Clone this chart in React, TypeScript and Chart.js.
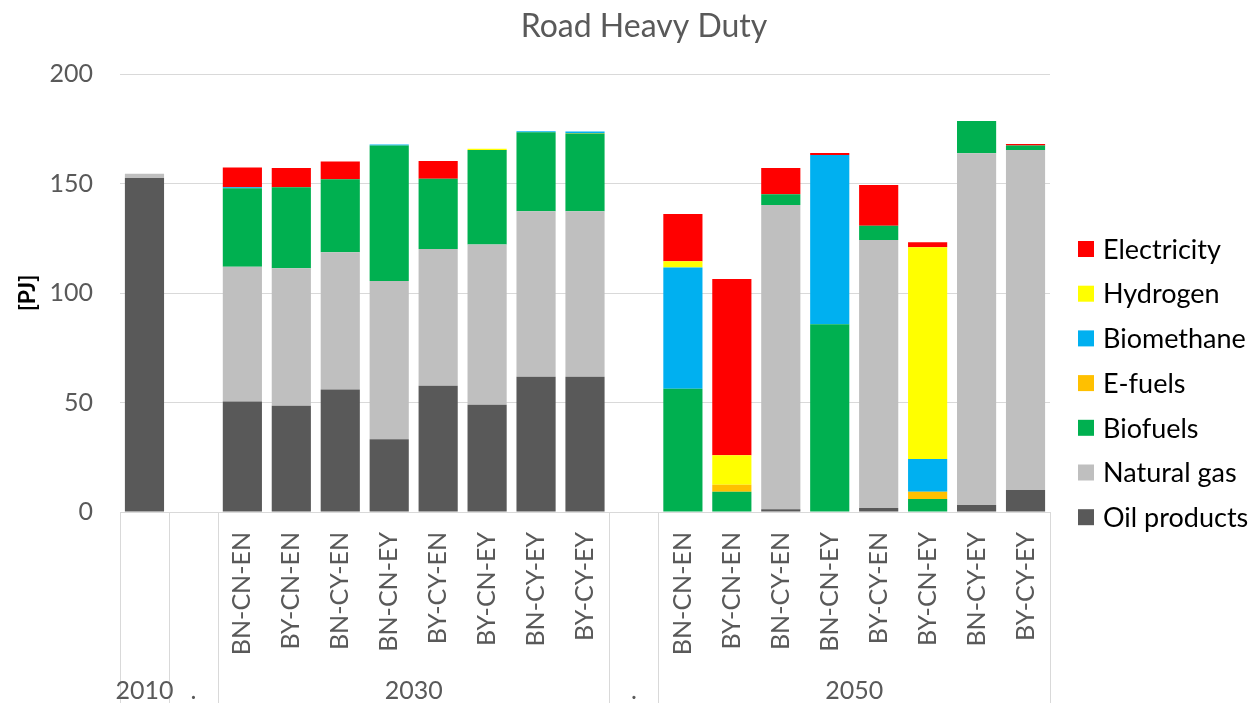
import React, { useEffect, useRef } from "react";
import { Chart, registerables } from "chart.js";

Chart.register(...registerables);

// ---- data ----
const categories = [
  "", "",
  "BN-CN-EN", "BY-CN-EN", "BN-CY-EN", "BN-CN-EY", "BY-CY-EN", "BY-CN-EY", "BN-CY-EY", "BY-CY-EY",
  "",
  "BN-CN-EN", "BY-CN-EN", "BN-CY-EN", "BN-CN-EY", "BY-CY-EN", "BY-CN-EY", "BN-CY-EY", "BY-CY-EY",
];
const groupLabels = ["2010", ".", "2030", ".", "2050"];
const groupSizes = [1, 1, 8, 1, 8];
const chartTitle = "Road Heavy Duty";

const oilProducts = [152.5, 0, 50.4, 48.5, 55.9, 33.2, 57.7, 49.0, 61.8, 61.8, 0, 0, 0, 1.2, 0, 1.8, 0, 3.2, 10.0];
const naturalGas = [2.0, 0, 61.6, 62.8, 62.7, 72.3, 62.4, 73.2, 75.5, 75.5, 0, 0, 0, 139.0, 0, 122.4, 0, 160.6, 155.3];
const biofuels = [0, 0, 35.8, 37.0, 33.3, 61.9, 32.1, 43.1, 36.1, 35.5, 0, 56.3, 9.3, 4.9, 85.7, 6.5, 5.9, 14.7, 2.0];
const eFuels = [0, 0, 0, 0, 0, 0, 0, 0, 0, 0.3, 0, 0, 3.2, 0, 0, 0, 3.4, 0, 0];
const biomethane = [0, 0, 0.5, 0, 0, 0.4, 0, 0, 0.5, 0.6, 0, 55.3, 0, 0, 77.3, 0, 14.9, 0, 0];
const hydrogen = [0, 0, 0, 0, 0, 0, 0, 0.6, 0, 0, 0, 2.9, 13.4, 0, 0, 0, 96.7, 0, 0];
const electricity = [0, 0, 9.0, 8.8, 8.1, 0, 8.1, 0, 0, 0, 0, 21.6, 80.5, 12.0, 0.9, 18.6, 2.3, 0, 0.7];

const yTicks = [0, 50, 100, 150, 200];

const FONT = "Lato";
const GREY_TEXT = "#595959";
const GRID = "#d9d9d9";

const titlePlugin = {
  id: "centerTitle",
  afterDraw(chart: any) {
    const { ctx } = chart;
    ctx.save();
    ctx.fillStyle = GREY_TEXT;
    ctx.font = `32px ${FONT}`;
    ctx.textAlign = "center";
    ctx.textBaseline = "middle";
    ctx.fillText(chartTitle, chart.width / 2 + 17.5, 27);
    ctx.restore();
  },
};

const groupPlugin = {
  id: "groupAxis",
  afterDraw(chart: any) {
    const { ctx, scales, chartArea } = chart;
    const x = scales.x;
    const half = (x.getPixelForValue(1) - x.getPixelForValue(0)) / 2;
    const bottom = chart.height;
    ctx.save();
    ctx.strokeStyle = GRID;
    ctx.lineWidth = 1;
    let idx = 0;
    const bounds: number[] = [x.getPixelForValue(0) - half];
    for (const n of groupSizes) {
      idx += n;
      bounds.push(x.getPixelForValue(idx - 1) + half);
    }
    for (const b of bounds) {
      const px = Math.round(b) + 0.5;
      ctx.beginPath();
      ctx.moveTo(px, chartArea.bottom);
      ctx.lineTo(px, bottom);
      ctx.stroke();
    }
    ctx.fillStyle = GREY_TEXT;
    ctx.font = `25px ${FONT}`;
    ctx.textAlign = "center";
    ctx.textBaseline = "middle";
    groupLabels.forEach((lab, i) => {
      const cx = (bounds[i] + bounds[i + 1]) / 2;
      ctx.fillText(lab, cx, bottom - 12);
    });
    ctx.restore();
  },
};

const legendPlugin = {
  id: "sideLegend",
  afterDraw(chart: any) {
    const { ctx, chartArea } = chart;
    const ds = chart.data.datasets;
    ctx.save();
    ctx.font = `27px ${FONT}`;
    ctx.textBaseline = "middle";
    ctx.textAlign = "left";
    const x0 = chartArea.right + 28;
    const y0 = chartArea.top + 175;
    for (let i = ds.length - 1, k = 0; i >= 0; i--, k++) {
      const y = y0 + k * 44.7;
      ctx.fillStyle = ds[i].backgroundColor;
      ctx.fillRect(x0, y - 8, 16, 16);
      ctx.fillStyle = "#000000";
      ctx.fillText(ds[i].label, x0 + 25, y + 1);
    }
    ctx.restore();
  },
};

export default function App() {
  const canvasRef = useRef<HTMLCanvasElement | null>(null);

  useEffect(() => {
    let chart: Chart | null = null;
    let cancelled = false;
    const build = () => {
      if (cancelled || !canvasRef.current) return;
      chart = new Chart(canvasRef.current, {
        type: "bar",
        data: {
          labels: categories,
          datasets: [
            { label: "Oil products", data: oilProducts, backgroundColor: "#595959" },
            { label: "Natural gas", data: naturalGas, backgroundColor: "#bfbfbf" },
            { label: "Biofuels", data: biofuels, backgroundColor: "#00b050" },
            { label: "E-fuels", data: eFuels, backgroundColor: "#ffc000" },
            { label: "Biomethane", data: biomethane, backgroundColor: "#00b0f0" },
            { label: "Hydrogen", data: hydrogen, backgroundColor: "#ffff00" },
            { label: "Electricity", data: electricity, backgroundColor: "#ff0000" },
          ],
        },
        options: {
          responsive: false,
          animation: false,
          datasets: { bar: { barPercentage: 0.8, categoryPercentage: 1.0 } },
          layout: { padding: { left: 0, right: 203, top: 74, bottom: 0 } },
          plugins: {
            legend: { display: false },
            tooltip: { enabled: false },
            title: { display: false },
          },
          scales: {
            x: {
              stacked: true,
              grid: { display: false, drawTicks: false },
              border: { display: false },
              ticks: {
                autoSkip: false,
                minRotation: 90,
                maxRotation: 90,
                padding: 20,
                color: GREY_TEXT,
                font: { family: FONT, size: 25 },
              },
              afterFit: (scale: any) => {
                scale.height = 191;
              },
            },
            y: {
              stacked: true,
              min: 0,
              max: 200,
              afterBuildTicks: (scale: any) => {
                scale.ticks = yTicks.map((v) => ({ value: v }));
              },
              grid: { color: GRID, lineWidth: 1, drawTicks: false },
              border: { display: false },
              ticks: {
                padding: 27,
                color: GREY_TEXT,
                font: { family: FONT, size: 25 },
              },
              title: {
                display: true,
                text: "[PJ]",
                color: "#000000",
                font: { family: FONT, size: 23, weight: "bold" },
                padding: { top: 14, bottom: 0 },
              },
              afterFit: (scale: any) => {
                scale.width = 120;
              },
            },
          },
        },
        plugins: [titlePlugin, groupPlugin, legendPlugin],
      });
    };
    const fontsApi: any = (document as any).fonts;
    if (fontsApi && fontsApi.load) {
      Promise.all([
        fontsApi.load(`25px ${FONT}`),
        fontsApi.load(`bold 23px ${FONT}`),
      ])
        .catch(() => undefined)
        .then(build);
    } else {
      build();
    }
    return () => {
      cancelled = true;
      if (chart) chart.destroy();
    };
  }, []);

  return (
    <div
      style={{
        position: "fixed",
        left: 0,
        top: 0,
        width: 1253,
        height: 703,
        background: "#ffffff",
      }}
    >
      <canvas ref={canvasRef} width={1253} height={703} style={{ display: "block" }} />
    </div>
  );
}
